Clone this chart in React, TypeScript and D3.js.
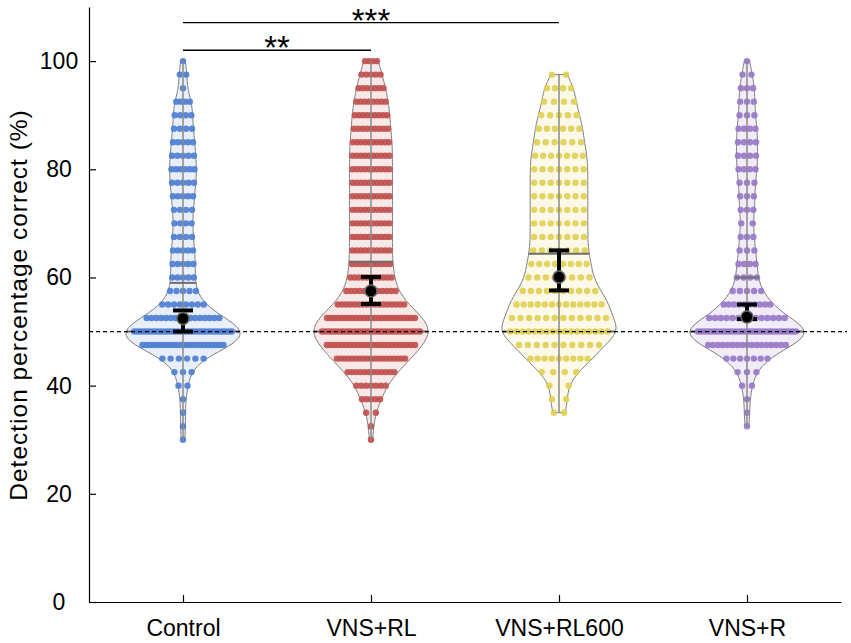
import { useEffect, useRef } from 'react';
import * as d3 from 'd3';

const WIDTH = 851;
const HEIGHT = 643;
const MARGIN = { top: 7, right: 10, bottom: 41, left: 89 };

const GROUPS = ['Control', 'VNS+RL', 'VNS+RL600', 'VNS+R'];
const COLORS = ['#4d7fd2', '#c0504d', '#e1cf55', '#9878c8'];
const FILLS = ['#e9eff9', '#f8e9e8', '#fcf9e8', '#f1ecf7'];

// discrete score levels (%), counts per level for each group
const LEVELS = [30, 32.5, 35, 37.5, 40, 42.5, 45, 47.5, 50, 52.5, 55, 57.5, 60, 62.5, 65, 67.5, 70, 72.5, 75, 77.5, 80, 82.5, 85, 87.5, 90, 92.5, 95, 97.5, 100];
const CONTROL = [1, 1, 1, 1, 2, 3, 6, 22, 30, 16, 8, 5, 5, 5, 5, 4, 4, 4, 5, 5, 6, 5, 5, 4, 4, 4, 1, 2, 1];
const VNS_RL = [1, 1, 2, 5, 7, 12, 19, 24, 30, 25, 17, 12, 11, 10, 10, 10, 10, 10, 10, 10, 10, 10, 10, 9, 9, 8, 7, 5, 4];
const VNS_RL600 = [0, 0, 2, 2, 2, 4, 9, 10, 17, 12, 13, 10, 8, 8, 7, 7, 7, 7, 7, 7, 7, 7, 6, 6, 5, 4, 4, 2, 0];
const VNS_R = [0, 1, 1, 1, 2, 3, 7, 17, 30, 14, 10, 5, 4, 4, 3, 3, 2, 3, 3, 3, 4, 4, 4, 4, 3, 3, 3, 2, 1];
const COUNTS = [CONTROL, VNS_RL, VNS_RL600, VNS_R];

// mean with confidence interval, and upper quartile line
const MEANS = [52.4, 57.5, 60.1, 52.7];
const CI_LOW = [50.0, 55.1, 57.6, 52.3];
const CI_HIGH = [53.9, 60.1, 65.0, 55.0];
const Q3 = [59.0, 62.9, 64.4, 60.0];

const CHANCE = 50;
const Y_TICKS = [0, 20, 40, 60, 80, 100];
const SIG = [
  { a: 0, b: 1, label: '**', y: 102 },
  { a: 0, b: 2, label: '***', y: 107.1 },
];

const BW = 2.2;
const HALF_W = 57;
const FONT = '"Liberation Sans", Arial, sans-serif';

export default function App() {
  const svgRef = useRef<SVGSVGElement>(null);

  useEffect(() => {
    document.body.style.margin = '0';
    if (!svgRef.current) return;
    const svg = d3.select(svgRef.current);
    svg.selectAll('*').remove();

    const x = d3.scaleLinear().domain([0.5, 4.5]).range([MARGIN.left, WIDTH - MARGIN.right]);
    const y = d3.scaleLinear().domain([0, 110]).range([HEIGHT - MARGIN.bottom, MARGIN.top]);

    const gViolins = svg.append('g');

    COUNTS.forEach((counts, gi) => {
      const cx = x(gi + 1);
      const present = LEVELS.filter((_, i) => counts[i] > 0);
      const lo = d3.min(present)!;
      const hi = d3.max(present)!;
      const dens = (v: number) =>
        d3.sum(LEVELS, (L, i) => counts[i] * Math.exp(-0.5 * ((v - L) / BW) ** 2));
      const grid = d3.range(lo, hi + 0.001, 0.25);
      const maxD = d3.max(grid, dens)!;
      const w = d3.scaleLinear().domain([0, maxD]).range([0, HALF_W]);

      const area = d3.area<number>()
        .y(v => y(v))
        .x0(v => cx - w(dens(v)))
        .x1(v => cx + w(dens(v)));

      const g = gViolins.append('g');
      g.append('path')
        .datum(grid)
        .attr('d', area)
        .attr('fill', FILLS[gi])
        .attr('stroke', '#7a7a7a')
        .attr('stroke-width', 1);

      // median line at 50 under the dots
      g.append('line')
        .attr('x1', cx - w(dens(CHANCE))).attr('x2', cx + w(dens(CHANCE)))
        .attr('y1', y(CHANCE)).attr('y2', y(CHANCE))
        .attr('stroke', '#6a6a6a').attr('stroke-width', 2);

      // dots spread across the violin width at each level
      LEVELS.forEach((L, i) => {
        const n = counts[i];
        if (!n) return;
        const half = w(dens(L)) * 0.86;
        for (let k = 0; k < n; k++) {
          const dx = n === 1 ? 0 : -half + (k * 2 * half) / (n - 1);
          g.append('circle')
            .attr('cx', cx + dx)
            .attr('cy', y(L))
            .attr('r', 3.2)
            .attr('fill', COLORS[gi])
            .attr('fill-opacity', 0.92);
        }
      });

      // whisker line through the violin
      g.append('line')
        .attr('x1', cx).attr('x2', cx)
        .attr('y1', y(lo)).attr('y2', y(hi))
        .attr('stroke', '#8a8a8a').attr('stroke-width', 1.5);

      // upper quartile
      const q = Q3[gi];
      g.append('line')
        .attr('x1', cx - w(dens(q))).attr('x2', cx + w(dens(q)))
        .attr('y1', y(q)).attr('y2', y(q))
        .attr('stroke', '#6e6e6e').attr('stroke-width', 2);
    });

    // chance level
    svg.append('line')
      .attr('x1', MARGIN.left).attr('x2', WIDTH - 4)
      .attr('y1', y(CHANCE)).attr('y2', y(CHANCE))
      .attr('stroke', '#000').attr('stroke-width', 1.3)
      .attr('stroke-dasharray', '4,3');

    // mean and CI
    GROUPS.forEach((_, gi) => {
      const cx = x(gi + 1);
      const g = svg.append('g');
      g.append('line')
        .attr('x1', cx).attr('x2', cx)
        .attr('y1', y(CI_LOW[gi])).attr('y2', y(CI_HIGH[gi]))
        .attr('stroke', '#000').attr('stroke-width', 4);
      [CI_LOW[gi], CI_HIGH[gi]].forEach(v => {
        g.append('line')
          .attr('x1', cx - 10).attr('x2', cx + 10)
          .attr('y1', y(v)).attr('y2', y(v))
          .attr('stroke', '#000').attr('stroke-width', 4);
      });
      g.append('circle')
        .attr('cx', cx).attr('cy', y(MEANS[gi]))
        .attr('r', 6)
        .attr('fill', '#000')
        .attr('stroke', '#666').attr('stroke-width', 1.5);
    });

    // significance bars
    SIG.forEach(s => {
      svg.append('line')
        .attr('x1', x(s.a + 1)).attr('x2', x(s.b + 1))
        .attr('y1', y(s.y)).attr('y2', y(s.y))
        .attr('stroke', '#000').attr('stroke-width', 1.3);
      svg.append('text')
        .attr('x', (x(s.a + 1) + x(s.b + 1)) / 2)
        .attr('y', y(s.y) + 9)
        .attr('text-anchor', 'middle')
        .attr('font-family', FONT)
        .attr('font-size', 33)
        .text(s.label);
    });

    // axes
    const yAxis = svg.append('g')
      .attr('transform', `translate(${MARGIN.left},0)`)
      .call(d3.axisLeft(y).tickValues(Y_TICKS).tickSize(-7).tickSizeOuter(0));
    yAxis.selectAll('text')
      .attr('x', -30)
      .attr('text-anchor', 'middle')
      .attr('font-family', FONT)
      .attr('font-size', 23)
      .attr('fill', '#000');

    const xAxis = svg.append('g')
      .attr('transform', `translate(0,${HEIGHT - MARGIN.bottom})`)
      .call(d3.axisBottom(x).tickValues([1, 2, 3, 4]).tickFormat(d => GROUPS[(d as number) - 1]).tickSize(-7).tickSizeOuter(0).tickPadding(18));
    xAxis.selectAll('text')
      .attr('font-family', FONT)
      .attr('font-size', 23)
      .attr('fill', '#000');
    [yAxis, xAxis].forEach(ax => {
      ax.select('.domain').attr('stroke', '#000').attr('stroke-width', 1.2);
      ax.selectAll('.tick line').attr('stroke', '#000').attr('stroke-width', 1.2);
    });

    svg.append('text')
      .attr('transform', `translate(27,305) rotate(-90)`)
      .attr('text-anchor', 'middle')
      .attr('font-family', FONT)
      .attr('font-size', 24.5)
      .attr('letter-spacing', 1)
      .text('Detection percentage correct (%)');
  }, []);

  return <svg ref={svgRef} width={WIDTH} height={HEIGHT} style={{ display: 'block', background: '#fff' }} />;
}
